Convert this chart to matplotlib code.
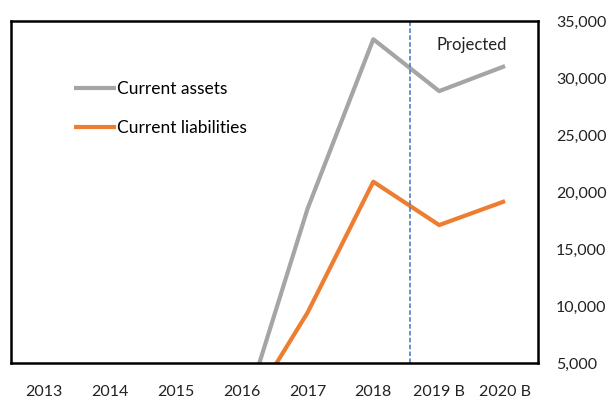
import matplotlib.pyplot as plt
import numpy as np

years = ['2013', '2014', '2015', '2016', '2017', '2018', '2019 B', '2020 B']
current_assets = [0, 0, 0, 0, 18500, 33400, 28850, 31050]
current_liabilities = [0, 0, 0, 0, 9400, 20900, 17100, 19200]

plt.rcParams['font.family'] = ['Lato', 'DejaVu Sans']

fig = plt.figure(figsize=(6.1, 3.99), dpi=100)
ax = fig.add_axes([11/610, 1 - 363/399, 527/610, 342/399])

x = np.arange(len(years))
ax.plot(x, current_assets, color='#A5A5A5', lw=3, label='Current assets', solid_capstyle='butt')
ax.plot(x, current_liabilities, color='#ED7D31', lw=3, label='Current liabilities', solid_capstyle='butt')
ax.axvline(5.55, color='#4472C4', lw=1.1, ls=(0, (3, 1.5)))
ax.text(6.5, 32900, 'Projected', ha='center', va='center', fontsize=12, color='#222222')

ax.set_xlim(-0.5, 7.5)
ax.set_ylim(5000, 35000)
ax.set_xticks(x)
ax.set_xticklabels(years)
ax.set_yticks(np.arange(5000, 35001, 5000))
ax.yaxis.tick_right()
ax.yaxis.set_major_formatter(plt.FuncFormatter(lambda v, p: f'{int(v):,}'))
ax.tick_params(axis='both', length=0, labelsize=11.5, colors='#222222')
ax.tick_params(axis='y', pad=13)
ax.tick_params(axis='x', pad=16)
for s in ax.spines.values():
    s.set_linewidth(1.8)
    s.set_color('black')

ax.legend(loc='upper left', bbox_to_anchor=(0.09, 0.87), frameon=False, fontsize=12.5,
          handlelength=2.4, handletextpad=0.1, labelspacing=1.3)

fig.savefig('out.png', dpi=100)
